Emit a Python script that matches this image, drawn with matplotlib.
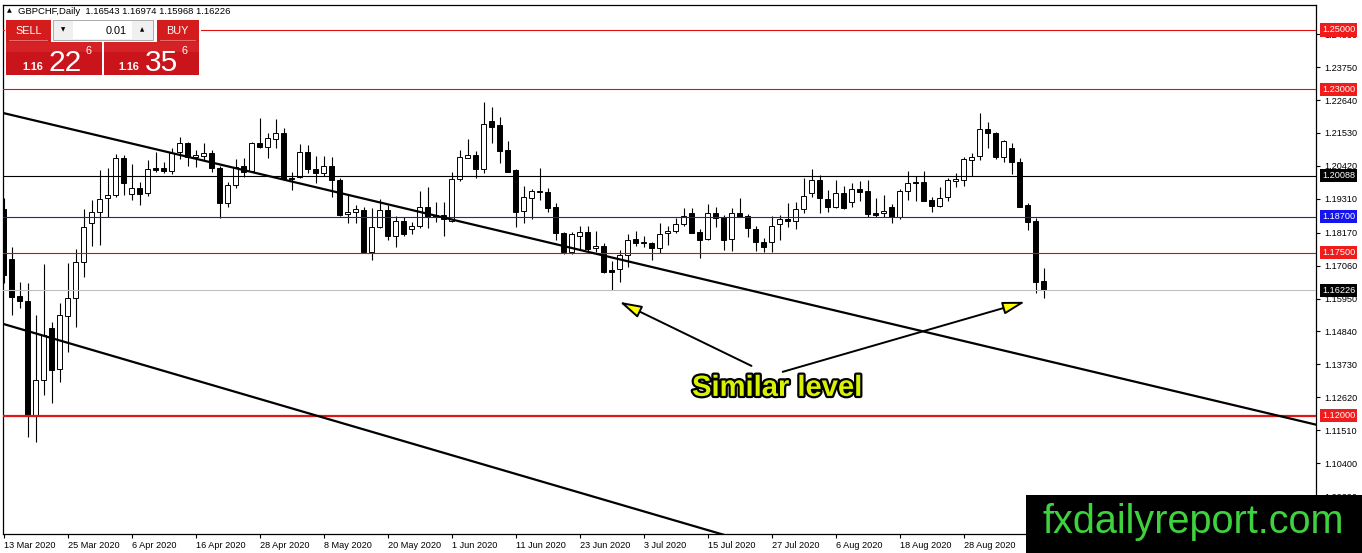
import matplotlib
matplotlib.use('Agg')
import matplotlib.pyplot as plt
import matplotlib.patheffects as pe
from matplotlib.patches import Rectangle, FancyArrowPatch
import numpy as np
import pandas as pd

# ---------------- data (GBPCHF daily) ----------------
opens = [1.1897, 1.1728, 1.1604, 1.1587, 1.1199, 1.1321, 1.1496, 1.1358, 1.1536, 1.1597,
         1.1718, 1.1850, 1.1887, 1.1934, 1.1944, 1.2069, 1.1947, 1.1968, 1.1951, 1.2035,
         1.2035, 1.2025, 1.2089, 1.2119, 1.2072, 1.2075, 1.2085, 1.2035, 1.1917, 1.1978,
         1.2042, 1.2025, 1.2119, 1.2106, 1.2133, 1.2153, 1.2001, 1.2005, 1.2089, 1.2032,
         1.2018, 1.2042, 1.1995, 1.1880, 1.1887, 1.1893, 1.1752, 1.1836, 1.1893, 1.1806,
         1.1856, 1.1829, 1.1840, 1.1904, 1.1877, 1.1877, 1.1856, 1.1998, 1.2069, 1.2079,
         1.2032, 1.2193, 1.2180, 1.2096, 1.2028, 1.1890, 1.1934, 1.1957, 1.1954, 1.1904,
         1.1816, 1.1752, 1.1806, 1.1819, 1.1765, 1.1772, 1.1691, 1.1695, 1.1742, 1.1796,
         1.1782, 1.1782, 1.1765, 1.1816, 1.1823, 1.1846, 1.1883, 1.1819, 1.1796, 1.1883,
         1.1870, 1.1796, 1.1883, 1.1873, 1.1829, 1.1786, 1.1786, 1.1846, 1.1863, 1.1856,
         1.1897, 1.1951, 1.1995, 1.1931, 1.1904, 1.1951, 1.1920, 1.1964, 1.1957, 1.1883,
         1.1883, 1.1904, 1.1870, 1.1957, 1.1988, 1.1988, 1.1927, 1.1907, 1.1937, 1.1991,
         1.1995, 1.2062, 1.2075, 1.2166, 1.2153, 1.2072, 1.2102, 1.2055, 1.1910, 1.1856,
         1.16543]
highs = [1.1934, 1.1769, 1.1651, 1.1647, 1.1540, 1.1711, 1.1516, 1.1580, 1.1715, 1.1762,
         1.1897, 1.1927, 1.2028, 1.2035, 1.2082, 1.2079, 1.2048, 1.1988, 1.2062, 1.2089,
         1.2055, 1.2102, 1.2139, 1.2123, 1.2096, 1.2119, 1.2096, 1.2042, 1.1988, 1.2065,
         1.2069, 1.2123, 1.2203, 1.2153, 1.2200, 1.2170, 1.2021, 1.2116, 1.2112, 1.2075,
         1.2075, 1.2072, 1.2001, 1.1944, 1.1910, 1.1904, 1.1900, 1.1931, 1.1910, 1.1873,
         1.1870, 1.1853, 1.1957, 1.1971, 1.1920, 1.1920, 1.2022, 1.2096, 1.2133, 1.2092,
         1.2257, 1.2241, 1.2207, 1.2126, 1.2032, 1.1974, 1.1964, 1.2035, 1.1968, 1.1917,
         1.1819, 1.1819, 1.1840, 1.1840, 1.1823, 1.1782, 1.1722, 1.1759, 1.1813, 1.1823,
         1.1806, 1.1786, 1.1850, 1.1840, 1.1866, 1.1900, 1.1900, 1.1829, 1.1914, 1.1904,
         1.1877, 1.1900, 1.1934, 1.1880, 1.1840, 1.1799, 1.1873, 1.1877, 1.1917, 1.1920,
         1.2001, 1.2032, 1.2011, 1.1961, 1.1995, 1.1974, 1.1984, 1.1991, 1.1995, 1.1934,
         1.1944, 1.1914, 1.1964, 1.2025, 1.2008, 1.2025, 1.1937, 1.1971, 1.2001, 1.2018,
         1.2072, 1.2085, 1.2220, 1.2190, 1.2156, 1.2129, 1.2119, 1.2069, 1.1917, 1.1866,
         1.16974]
lows = [1.1647, 1.1540, 1.1563, 1.1128, 1.1112, 1.1270, 1.1243, 1.1314, 1.1415, 1.1499,
        1.1668, 1.1772, 1.1776, 1.1870, 1.1937, 1.1944, 1.1927, 1.1910, 1.1941, 1.2022,
        1.2018, 1.2015, 1.2065, 1.2042, 1.2038, 1.2059, 1.2022, 1.1866, 1.1904, 1.1968,
        1.2005, 1.2022, 1.2102, 1.2069, 1.2102, 1.1995, 1.1961, 1.2001, 1.2018, 1.1984,
        1.2008, 1.1937, 1.1873, 1.1850, 1.1850, 1.1752, 1.1725, 1.1833, 1.1792, 1.1769,
        1.1806, 1.1813, 1.1833, 1.1833, 1.1853, 1.1806, 1.1853, 1.1991, 1.2069, 1.2001,
        1.2018, 1.2119, 1.2052, 1.2022, 1.1836, 1.1850, 1.1863, 1.1927, 1.1887, 1.1792,
        1.1745, 1.1745, 1.1759, 1.1755, 1.1752, 1.1681, 1.1624, 1.1651, 1.1701, 1.1772,
        1.1769, 1.1725, 1.1748, 1.1775, 1.1816, 1.1840, 1.1816, 1.1732, 1.1792, 1.1836,
        1.1759, 1.1755, 1.1870, 1.1802, 1.1755, 1.1752, 1.1752, 1.1792, 1.1836, 1.1829,
        1.1883, 1.1937, 1.1883, 1.1887, 1.1900, 1.1897, 1.1904, 1.1924, 1.1870, 1.1870,
        1.1870, 1.1850, 1.1863, 1.1927, 1.1924, 1.1924, 1.1887, 1.1904, 1.1924, 1.1971,
        1.1974, 1.2008, 1.2062, 1.2102, 1.2065, 1.2055, 1.2015, 1.1904, 1.1826, 1.1614,
        1.15968]
closes = [1.1674, 1.1600, 1.1587, 1.1199, 1.1321, 1.1472, 1.1354, 1.1540, 1.1597, 1.1718,
          1.1836, 1.1887, 1.1931, 1.1944, 1.2069, 1.1984, 1.1968, 1.1947, 1.2032, 1.2028,
          1.2025, 1.2085, 1.2119, 1.2072, 1.2079, 1.2085, 1.2035, 1.1917, 1.1978, 1.2038,
          1.2022, 1.2119, 1.2106, 1.2136, 1.2153, 1.1998, 1.1998, 1.2089, 1.2032, 1.2018,
          1.2042, 1.1995, 1.1877, 1.1887, 1.1897, 1.1752, 1.1836, 1.1893, 1.1806, 1.1856,
          1.1813, 1.1840, 1.1904, 1.1870, 1.1870, 1.1863, 1.1998, 1.2072, 1.2079, 1.2032,
          1.2183, 1.2173, 1.2092, 1.2022, 1.1887, 1.1937, 1.1957, 1.1954, 1.1900, 1.1816,
          1.1752, 1.1813, 1.1819, 1.1762, 1.1772, 1.1684, 1.1684, 1.1742, 1.1792, 1.1782,
          1.1786, 1.1765, 1.1813, 1.1823, 1.1846, 1.1873, 1.1816, 1.1792, 1.1883, 1.1866,
          1.1792, 1.1883, 1.1870, 1.1833, 1.1786, 1.1769, 1.1840, 1.1863, 1.1856, 1.1897,
          1.1941, 1.1995, 1.1934, 1.1904, 1.1951, 1.1900, 1.1964, 1.1954, 1.1880, 1.1877,
          1.1890, 1.1870, 1.1957, 1.1984, 1.1984, 1.1924, 1.1907, 1.1934, 1.1995, 1.1998,
          1.2065, 1.2072, 1.2166, 1.2153, 1.2072, 1.2126, 1.2055, 1.1904, 1.1853, 1.1651,
          1.16226]
dates = pd.bdate_range('2020-03-13', periods=len(opens))

# horizontal levels
levels = [1.25000, 1.23000, 1.20088, 1.18700, 1.17500, 1.16226, 1.12000]
level_line_colors = ['#e01010', '#e01010', '#000000', '#1c1cc8', '#d01010', '#c0c0c0', '#e01515']
level_line_widths = [0.8, 0.8, 0.8, 0.8, 0.8, 0.8, 1.6]
level_label_bg = ['#f01c1c', '#f01c1c', '#000000', '#1414ee', '#f01c1c', '#000000', '#f01c1c']

# price scale labels
price_ticks = [1.24860, 1.23750, 1.22640, 1.21530, 1.20420, 1.19310, 1.18170,
               1.17060, 1.15950, 1.14840, 1.13730, 1.12620, 1.11510, 1.10400, 1.09290]

# trend lines (bar index, price)
upper_trend = ([-1, 170], [1.22264, 1.11320])
lower_trend = ([-1, 100], [1.15171, 1.07202])

# annotation
note_text = 'Similar level'
note_pos = (96.7, 1.1267)
arrow1 = ((93.5, 1.1368), (77.0, 1.1584))
arrow2 = ((97.4, 1.1348), (127.7, 1.1584))

# ---------------- figure ----------------
W, H, DPI = 1362, 553, 100
fig = plt.figure(figsize=(W / DPI, H / DPI), dpi=DPI)
fig.patch.set_facecolor('white')
FONT = 'Liberation Sans'

def fx(x):
    return x / W

def fy(y):
    return 1 - y / H

ax_l, ax_r, ax_t, ax_b = 3, 1316, 5, 534
ax = fig.add_axes([fx(ax_l), fy(ax_b), (ax_r - ax_l) / W, (ax_b - ax_t) / H])
ax.set_facecolor('white')
ax.set_xlim(-0.0625, 164.0625)
ax.set_ylim(1.080152, 1.258425)

x = np.arange(len(opens))
o = np.array(opens); h = np.array(highs); l = np.array(lows); c = np.array(closes)
up = c >= o
ax.vlines(x, l, h, color='black', lw=0.8, zorder=2)
ax.bar(x, np.abs(c - o), bottom=np.minimum(o, c), width=0.56,
       color=np.where(up, 'white', 'black'), edgecolor='black', linewidth=0.7, zorder=3)

for lvl, col, lw in zip(levels, level_line_colors, level_line_widths):
    ax.axhline(lvl, color=col, lw=lw, zorder=4)

ax.plot(*upper_trend, color='black', lw=1.6, zorder=5, solid_capstyle='butt')
ax.plot(*lower_trend, color='black', lw=1.6, zorder=5, solid_capstyle='butt')

# axes styling
for s in ax.spines.values():
    s.set_color('black'); s.set_linewidth(0.9)
ax.yaxis.tick_right()
ax.set_yticks(price_ticks)
ax.set_yticklabels([f'{v:.5f}' for v in price_ticks], fontfamily=FONT, fontsize=6.6)
ax.tick_params(axis='y', which='both', length=3, width=0.8, pad=3, color='black', labelcolor='black')

tick_idx = list(range(0, len(opens), 8))
tick_lbl = [f"{dates[i].day} {dates[i].strftime('%b %Y')}" for i in tick_idx]
ax.set_xticks(tick_idx)
ax.set_xticklabels(tick_lbl, fontfamily=FONT, fontsize=6.6, ha='left')
ax.tick_params(axis='x', length=3, width=0.8, pad=2)
for t in ax.get_xticklabels():
    t.set_horizontalalignment('left')

# coloured level labels on price scale
for lvl, bg in zip(levels, level_label_bg):
    ax.text(1.0046, lvl, f'{lvl:.5f}', transform=ax.get_yaxis_transform(), ha='left', va='center',
            color='white', fontsize=6.6, fontfamily=FONT, clip_on=False, zorder=6,
            bbox=dict(boxstyle='square,pad=0.22', fc=bg, ec='none'))

# annotation arrows and text
for tail, tip in (arrow1, arrow2):
    ax.add_patch(FancyArrowPatch(tail, tip, arrowstyle='-|>,head_length=1.35,head_width=0.38',
                                 mutation_scale=10, fc='#ffff00', ec='black', lw=1.4,
                                 shrinkA=0, shrinkB=0, zorder=7))
ax.text(note_pos[0], note_pos[1], note_text, ha='center', va='baseline', fontsize=21,
        fontweight='bold', fontfamily=FONT, color='#d8f200', zorder=8,
        path_effects=[pe.withStroke(linewidth=3.2, foreground='black')])

# ---------------- header & one-click panel ----------------
Z = 20
def rect(x0, y0, x1, y1, fc, ec='none', lw=0.0, z=Z):
    fig.add_artist(Rectangle((fx(x0), fy(y1)), (x1 - x0) / W, (y1 - y0) / H,
                             transform=fig.transFigure, fc=fc, ec=ec, lw=lw, zorder=z))

def ftext(xp, yp, s, **kw):
    kw.setdefault('fontfamily', FONT)
    kw.setdefault('zorder', Z + 2)
    fig.text(fx(xp), fy(yp), s, **kw)

ftext(7, 11, '▲', fontsize=4.5, fontfamily='DejaVu Sans', va='center', ha='left')
ftext(18, 11, 'GBPCHF,Daily  1.16543 1.16974 1.15968 1.16226', fontsize=6.8, va='center', ha='left')

rect(5, 18, 201, 77, 'white')
# SELL / BUY buttons
rect(6, 20, 51, 42, '#d41c1c')
rect(157, 20, 199, 42, '#d41c1c')
rect(9, 40.5, 48, 41.3, '#e86a6a', z=Z + 1)
rect(160, 40.5, 196, 41.3, '#e86a6a', z=Z + 1)
ftext(28.5, 30.5, 'SELL', fontsize=7.8, color='white', ha='center', va='center')
ftext(177.5, 30.5, 'BUY', fontsize=7.8, color='white', ha='center', va='center')
# lot box
rect(53, 20, 153, 40, '#f0f0f0', ec='#a0a0a0', lw=0.6)
rect(73, 21, 132, 39, 'white', z=Z + 1)
ftext(63, 30, '▼', fontsize=4, fontfamily='DejaVu Sans', ha='center', va='center')
ftext(142, 30, '▲', fontsize=4, fontfamily='DejaVu Sans', ha='center', va='center')
ftext(127, 30.5, '0.01', fontsize=7.8, ha='right', va='center')
# price boxes
rect(6, 42, 102, 75, '#c8141a')
rect(104, 42, 199, 75, '#c8141a')
rect(6, 42, 102, 52, '#d42226', z=Z + 0.5)
rect(104, 42, 199, 52, '#d42226', z=Z + 0.5)
ftext(22, 70, '1.16', fontsize=7.8, fontweight='bold', color='white', ha='left', va='baseline')
ftext(48.5, 71, '22', fontsize=21.5, color='white', ha='left', va='baseline')
ftext(85.5, 46.5, '6', fontsize=7.8, color='white', ha='left', va='top')
ftext(118, 70, '1.16', fontsize=7.8, fontweight='bold', color='white', ha='left', va='baseline')
ftext(144.5, 71, '35', fontsize=21.5, color='white', ha='left', va='baseline')
ftext(181.5, 46.5, '6', fontsize=7.8, color='white', ha='left', va='top')

# ---------------- logo ----------------
rect(1026, 494.5, 1362, 553, 'black', z=30)
ftext(1193.5, 533, 'fxdailyreport.com', fontsize=28.5, color='#3fd23f', ha='center',
      va='baseline', zorder=31)

fig.savefig('out.png', dpi=DPI, facecolor='white')
